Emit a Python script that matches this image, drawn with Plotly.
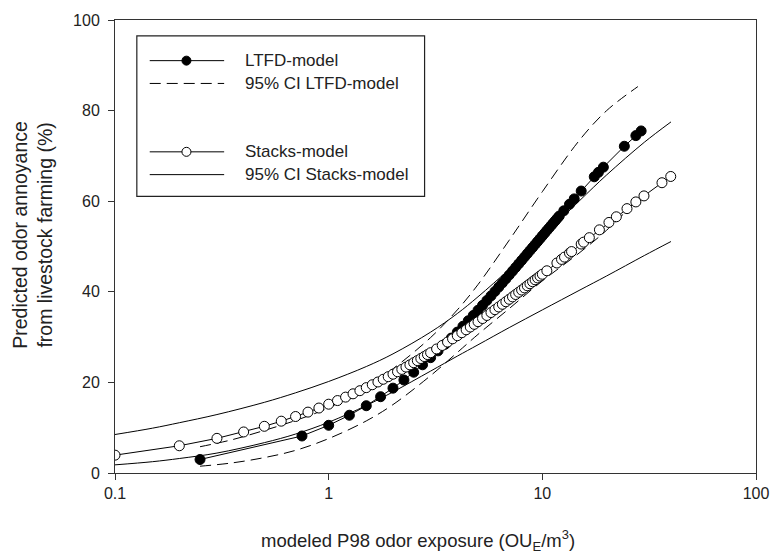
import plotly.graph_objects as go

# ---------------- data ----------------
ltfd_x = [0.25, 0.75, 1, 1.25, 1.5, 1.75, 2, 2.25, 2.5, 2.75, 3, 3.25, 3.5, 3.75,
          4, 4.25, 4.5, 4.75, 5, 5.25, 5.5, 5.75, 6, 6.25, 6.5, 6.75, 7, 7.25, 7.5,
          7.75, 8, 8.25, 8.5, 8.75, 9, 9.25, 9.5, 9.75, 10, 10.25, 10.5, 10.75, 11,
          11.25, 11.5, 11.75, 12, 12.6, 13.4, 14.1, 15.2, 17.5, 18.3, 19.3, 24.2,
          27.4, 29]
ltfd_y = [2.98, 8.17, 10.53, 12.75, 14.85, 16.84, 18.73, 20.53, 22.25, 23.89, 25.46,
          26.96, 28.40, 29.78, 31.10, 32.38, 33.60, 34.78, 35.92, 37.01, 38.07, 39.09,
          40.08, 41.04, 41.96, 42.85, 43.72, 44.56, 45.37, 46.16, 46.93, 47.67, 48.40,
          49.10, 49.78, 50.45, 51.09, 51.72, 52.34, 52.93, 53.52, 54.08, 54.64, 55.18,
          55.70, 56.22, 56.72, 57.88, 59.33, 60.51, 62.24, 65.39, 66.37, 67.51, 72.13,
          74.48, 75.51]

ltfd_ci_x = [0.25, 0.35, 0.5, 0.7, 1, 1.5, 2, 3, 4, 5, 7, 10, 15, 20, 28]
ltfd_ci_upper = [5.8, 7.3, 9.4, 11.6, 14.4, 18.9, 23.0, 29.9, 36.0, 41.6, 51.4, 62.1,
                 73.6, 80.0, 85.3]
ltfd_ci_lower = [1.5, 2.2, 3.4, 5.0, 7.6, 11.5, 15.1, 21.5, 26.6, 30.6, 36.3, 42.4,
                 48.7, 53.6, 60.4]

stacks_x = [0.1, 0.2, 0.3, 0.4, 0.5, 0.6, 0.7, 0.8, 0.9, 1.0, 1.1, 1.2, 1.3, 1.4, 1.5,
            1.6, 1.7, 1.8, 1.9, 2.0, 2.1, 2.2, 2.3, 2.4, 2.5, 2.6, 2.7, 2.8, 2.9, 3.0,
            3.2, 3.4, 3.6, 3.8, 4.0, 4.2, 4.4, 4.6, 4.8, 5.0, 5.25, 5.5, 5.75, 6.0,
            6.25, 6.5, 6.75, 7.0, 7.25, 7.5, 7.75, 8.0, 8.25, 8.5, 8.75, 9.0, 9.25,
            9.5, 9.75, 10, 10.5, 11.7, 12.3, 12.7, 13.4, 13.7, 15.2, 15.6, 16.6, 18.5,
            20.5, 22.2, 24.9, 27.4, 29.9, 36.3, 39.9]
stacks_y = [3.94, 6.01, 7.65, 9.06, 10.31, 11.44, 12.47, 13.44, 14.34, 15.19, 15.99,
            16.75, 17.48, 18.17, 18.84, 19.48, 20.09, 20.69, 21.26, 21.81, 22.35, 22.87,
            23.38, 23.87, 24.35, 24.81, 25.27, 25.71, 26.14, 26.56, 27.38, 28.15, 28.90,
            29.62, 30.30, 30.97, 31.61, 32.23, 32.82, 33.40, 34.10, 34.77, 35.42, 36.05,
            36.65, 37.24, 37.80, 38.35, 38.88, 39.40, 39.90, 40.39, 40.86, 41.33, 41.78,
            42.22, 42.65, 43.06, 43.47, 43.87, 44.64, 46.36, 47.15, 47.66, 48.52, 48.88,
            50.54, 50.96, 51.95, 53.68, 55.31, 56.56, 58.36, 59.84, 61.17, 64.08, 65.46]

stacks_ci_x = [0.1, 0.15, 0.2, 0.3, 0.5, 0.7, 1, 1.5, 2, 3, 4, 5, 7, 10, 15, 20, 30, 40]
stacks_ci_upper = [8.5, 9.9, 11.1, 12.9, 15.6, 17.7, 20.2, 23.5, 26.3, 31.1, 35.2, 38.9,
                   45.0, 52.1, 60.2, 65.8, 73.0, 77.5]
stacks_ci_lower = [1.8, 2.5, 3.2, 4.4, 6.7, 8.6, 11.2, 14.9, 17.9, 22.5, 25.8, 28.3,
                   32.1, 36.0, 40.4, 43.5, 48.0, 51.1]

x_ticks = [0.1, 1, 10, 100]
x_tick_labels = ["0.1", "1", "10", "100"]
y_ticks = [0, 20, 40, 60, 80, 100]

legend_labels = ["LTFD-model", "95% CI LTFD-model", "Stacks-model", "95% CI Stacks-model"]

# ---------------- layout geometry (pixels) ----------------
W_PX, H_PX = 781, 559
L, R, T, B = 115, 761, 16, 473
FONT = "Liberation Sans, Arial, sans-serif"
DASH = "11px,6px"
MS = 10


def px(x):
    return (x - L) / (R - L)


def py(y):
    return (B - y) / (B - T)


fig = go.Figure()

# confidence intervals
for yy in (stacks_ci_upper, stacks_ci_lower):
    fig.add_trace(go.Scatter(x=stacks_ci_x, y=yy, mode="lines",
                             line=dict(color="black", width=1, shape="spline"),
                             showlegend=False, hoverinfo="skip"))
for yy in (ltfd_ci_upper, ltfd_ci_lower):
    fig.add_trace(go.Scatter(x=ltfd_ci_x, y=yy, mode="lines",
                             line=dict(color="black", width=1, dash=DASH, shape="spline"),
                             showlegend=False, hoverinfo="skip"))

# models
fig.add_trace(go.Scatter(x=ltfd_x, y=ltfd_y, mode="lines+markers", name=legend_labels[0],
                         line=dict(color="black", width=1),
                         marker=dict(symbol="circle", size=MS, color="black",
                                     line=dict(color="black", width=1)),
                         showlegend=False))
fig.add_trace(go.Scatter(x=stacks_x, y=stacks_y, mode="lines+markers", name=legend_labels[2],
                         line=dict(color="black", width=1),
                         marker=dict(symbol="circle", size=MS, color="white",
                                     line=dict(color="black", width=1)),
                         showlegend=False))

# ---------------- hand-drawn legend ----------------
shapes = [dict(type="rect", xref="paper", yref="paper",
               x0=px(137), x1=px(427), y0=py(194), y1=py(32),
               line=dict(color="#222", width=1.2), fillcolor="white", layer="above")]
rows = [57, 80, 149, 172]
styles = ["solid", DASH, "solid", "solid"]
for ry, st in zip(rows, styles):
    shapes.append(dict(type="line", xref="paper", yref="paper",
                       x0=px(150), x1=px(225), y0=py(ry), y1=py(ry),
                       line=dict(color="black", width=1, dash=st)))
for ry, fc in ((rows[0], "black"), (rows[2], "white")):
    shapes.append(dict(type="circle", xref="paper", yref="paper",
                       xsizemode="pixel", ysizemode="pixel",
                       xanchor=px(187), yanchor=py(ry),
                       x0=-4.5, x1=4.5, y0=-4.5, y1=4.5,
                       fillcolor=fc, line=dict(color="black", width=1)))

annotations = []
for ry, lab in zip(rows, legend_labels):
    annotations.append(dict(text=lab, xref="paper", yref="paper", x=px(244), y=py(ry),
                            xanchor="left", yanchor="middle", showarrow=False,
                            font=dict(family=FONT, size=17, color="#222")))

annotations.append(dict(text="modeled P98 odor exposure (OU<sub>E</sub>/m<sup>3</sup>)",
                        xref="paper", yref="paper", x=px(420), y=py(541),
                        xanchor="center", yanchor="middle", showarrow=False,
                        font=dict(family=FONT, size=18.5, color="#222")))
annotations.append(dict(text="Predicted odor annoyance<br>from livestock farming (%)",
                        xref="paper", yref="paper", x=px(31), y=py(233),
                        xanchor="center", yanchor="middle", textangle=-90,
                        showarrow=False,
                        font=dict(family=FONT, size=19.5, color="#222")))

fig.update_layout(
    width=W_PX, height=H_PX,
    margin=dict(l=L, r=W_PX - R, t=T, b=H_PX - B, pad=0),
    paper_bgcolor="white", plot_bgcolor="white",
    showlegend=False,
    font=dict(family=FONT, size=16, color="#222"),
    shapes=shapes, annotations=annotations,
)
fig.update_xaxes(type="log", range=[-1, 2], tickvals=x_ticks, ticktext=x_tick_labels,
                 ticks="outside", ticklen=6, tickcolor="#333", showgrid=False,
                 zeroline=False, showline=True, linecolor="#333", linewidth=1,
                 mirror=True, tickfont=dict(family=FONT, size=16, color="#222"))
fig.update_yaxes(range=[0, 100], tickvals=y_ticks, ticks="outside", ticklen=6,
                 tickcolor="#333", showgrid=False, zeroline=False, showline=True,
                 linecolor="#333", linewidth=1, mirror=True, ticklabelstandoff=5,
                 tickfont=dict(family=FONT, size=16, color="#222"))

fig.write_html("out.html")
